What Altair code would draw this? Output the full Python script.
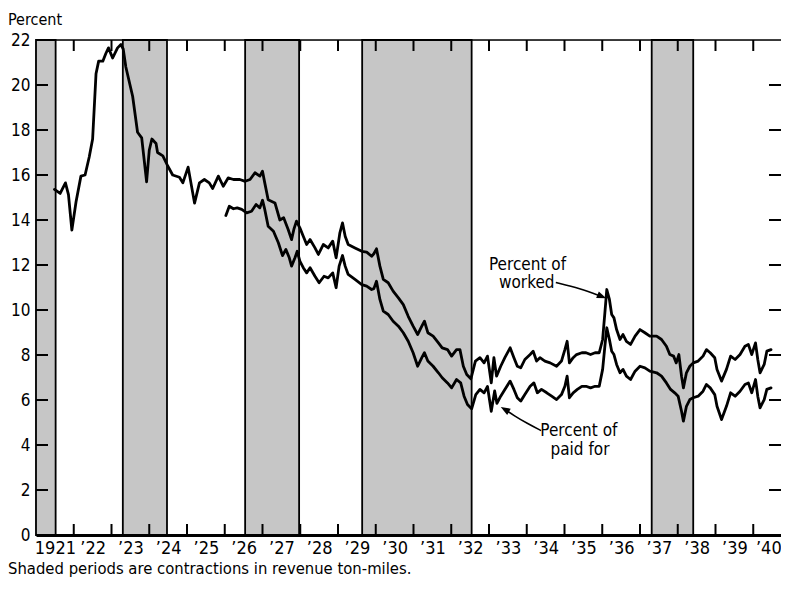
import json
import altair as alt
import pandas as pd

FONT = "DejaVu Sans Condensed, Liberation Sans Narrow, Roboto Condensed, DejaVu Sans, sans-serif"

# ---- data (decimal years, percent) ----
worked_t = [1921.49, 1921.64, 1921.78, 1921.86, 1921.95, 1922.06, 1922.19, 1922.30, 1922.41, 1922.50,
            1922.59, 1922.66, 1922.77, 1922.85, 1922.92, 1923.03, 1923.16, 1923.25, 1923.31, 1923.38,
            1923.56, 1923.69, 1923.80, 1923.93, 1924.00, 1924.07, 1924.18, 1924.22, 1924.36, 1924.49,
            1924.62, 1924.80, 1924.89, 1925.03, 1925.20, 1925.33, 1925.46, 1925.59, 1925.68, 1925.83,
            1925.96, 1926.09, 1926.23, 1926.40, 1926.54, 1926.67, 1926.80, 1926.93, 1927.00, 1927.06,
            1927.15, 1927.33, 1927.46, 1927.56, 1927.68, 1927.77, 1927.83, 1927.90, 1927.99, 1928.08,
            1928.17, 1928.26, 1928.39, 1928.48, 1928.61, 1928.74, 1928.86, 1928.95, 1929.05, 1929.12,
            1929.19, 1929.27, 1929.45, 1929.63, 1929.76, 1929.89, 1929.95, 1930.02, 1930.11, 1930.20,
            1930.33, 1930.46, 1930.60, 1930.73, 1930.86, 1930.99, 1931.11, 1931.22, 1931.29, 1931.38,
            1931.52, 1931.66, 1931.76, 1931.90, 1932.01, 1932.14, 1932.23, 1932.32, 1932.41, 1932.52,
            1932.64, 1932.76, 1932.87, 1932.96, 1933.06, 1933.13, 1933.20, 1933.31, 1933.42, 1933.56,
            1933.66, 1933.75, 1933.84, 1933.95, 1934.09, 1934.17, 1934.26, 1934.35, 1934.48, 1934.62,
            1934.79, 1934.92, 1935.01, 1935.07, 1935.13, 1935.23, 1935.32, 1935.46, 1935.57, 1935.69,
            1935.81, 1935.92, 1936.01, 1936.07, 1936.12, 1936.19, 1936.25, 1936.31, 1936.38, 1936.47,
            1936.55, 1936.64, 1936.75, 1936.87, 1937.00, 1937.13, 1937.26, 1937.44, 1937.57, 1937.70,
            1937.79, 1937.89, 1937.96, 1938.03, 1938.10, 1938.15, 1938.23, 1938.32, 1938.41, 1938.54,
            1938.67, 1938.76, 1938.86, 1938.98, 1939.04, 1939.16, 1939.29, 1939.40, 1939.52, 1939.65,
            1939.78, 1939.87, 1939.96, 1940.06, 1940.12, 1940.18, 1940.29, 1940.36, 1940.47]
worked_v = [15.36, 15.18, 15.65, 15.13, 13.55, 14.8, 15.95, 16.0, 16.8, 17.6,
            20.5, 21.06, 21.06, 21.4, 21.65, 21.2, 21.65, 21.8, 21.6, 20.8,
            19.5, 17.9, 17.65, 15.7, 17.1, 17.6, 17.4, 17.0, 16.85, 16.4,
            16.0, 15.9, 15.65, 16.35, 14.75, 15.65, 15.8, 15.65, 15.4, 15.95,
            15.5, 15.87, 15.8, 15.8, 15.72, 15.8, 16.1, 15.95, 16.17, 15.65,
            14.9, 14.76, 14.0, 14.1, 13.58, 13.13, 13.58, 13.95, 13.65, 13.28,
            12.91, 13.13, 12.76, 12.47, 12.91, 12.76, 13.06, 12.32, 13.43, 13.87,
            13.28, 12.91, 12.76, 12.61, 12.57, 12.39, 12.5, 12.72, 11.95, 11.36,
            11.21, 10.84, 10.54, 10.24, 9.72, 9.28, 8.91, 9.28, 9.5, 8.99,
            8.84, 8.54, 8.32, 8.24, 7.95, 8.24, 8.24, 7.5, 7.13, 6.94,
            7.73, 7.88, 7.65, 7.95, 6.76, 7.88, 7.06, 7.5, 7.88, 8.32,
            7.88, 7.5, 7.43, 7.8, 8.02, 8.17, 7.73, 7.88, 7.73, 7.65,
            7.5, 7.73, 8.24, 8.61, 7.65, 7.88, 8.02, 8.1, 8.1, 8.02,
            8.1, 8.1, 8.69, 9.88, 10.91, 10.47, 9.8, 9.65, 9.13, 8.69,
            8.91, 8.61, 8.47, 8.84, 9.13, 8.99, 8.84, 8.84, 8.69, 8.39,
            8.02, 7.95, 7.65, 8.02, 7.06, 6.54, 7.21, 7.5, 7.65, 7.73,
            7.95, 8.24, 8.1, 7.88, 7.36, 6.84, 7.36, 7.95, 7.8, 8.02,
            8.39, 8.47, 8.02, 8.54, 7.8, 7.21, 7.58, 8.17, 8.24]

paid_t = [1926.03, 1926.12, 1926.23, 1926.33, 1926.45, 1926.58, 1926.71, 1926.83, 1926.93, 1927.00,
          1927.06, 1927.15, 1927.29, 1927.42, 1927.53, 1927.62, 1927.71, 1927.77, 1927.86, 1927.92,
          1927.99, 1928.08, 1928.17, 1928.26, 1928.39, 1928.50, 1928.63, 1928.74, 1928.86, 1928.95,
          1929.03, 1929.12, 1929.19, 1929.27, 1929.45, 1929.63, 1929.76, 1929.89, 1929.95, 1930.02,
          1930.11, 1930.20, 1930.33, 1930.46, 1930.60, 1930.73, 1930.86, 1930.99, 1931.11, 1931.22,
          1931.29, 1931.38, 1931.52, 1931.66, 1931.76, 1931.90, 1932.01, 1932.14, 1932.25, 1932.34,
          1932.43, 1932.54, 1932.65, 1932.76, 1932.87, 1932.96, 1933.06, 1933.15, 1933.21, 1933.31,
          1933.42, 1933.56, 1933.66, 1933.75, 1933.84, 1933.95, 1934.09, 1934.19, 1934.28, 1934.39,
          1934.53, 1934.66, 1934.79, 1934.92, 1935.01, 1935.07, 1935.13, 1935.23, 1935.34, 1935.46,
          1935.57, 1935.69, 1935.81, 1935.92, 1936.01, 1936.07, 1936.12, 1936.19, 1936.25, 1936.31,
          1936.38, 1936.47, 1936.55, 1936.64, 1936.75, 1936.87, 1937.00, 1937.13, 1937.26, 1937.44,
          1937.57, 1937.70, 1937.81, 1937.92, 1938.01, 1938.10, 1938.15, 1938.23, 1938.32, 1938.41,
          1938.54, 1938.67, 1938.76, 1938.86, 1938.98, 1939.04, 1939.16, 1939.29, 1939.40, 1939.52,
          1939.65, 1939.78, 1939.87, 1939.96, 1940.06, 1940.12, 1940.18, 1940.29, 1940.36, 1940.47]
paid_v = [14.2, 14.61, 14.5, 14.54, 14.47, 14.32, 14.39, 14.69, 14.54, 14.88,
          14.47, 13.72, 13.5, 12.99, 12.42, 12.69, 12.32, 11.95, 12.32, 12.61,
          12.17, 11.88, 11.65, 11.88, 11.5, 11.21, 11.5, 11.43, 11.65, 10.99,
          11.95, 12.42, 11.95, 11.58, 11.36, 11.13, 11.06, 10.91, 10.95, 11.28,
          10.47, 9.95, 9.8, 9.5, 9.28, 8.99, 8.61, 8.1, 7.5, 7.88,
          8.1, 7.73, 7.5, 7.21, 6.99, 6.76, 6.54, 6.91, 6.76, 6.17,
          5.8, 5.61, 6.24, 6.47, 6.32, 6.6, 5.5, 6.4, 5.85, 6.17,
          6.47, 6.84, 6.47, 6.1, 5.95, 6.24, 6.61, 6.76, 6.32, 6.47,
          6.32, 6.17, 6.02, 6.24, 6.61, 7.06, 6.1, 6.32, 6.47, 6.61,
          6.61, 6.54, 6.61, 6.61, 7.36, 8.39, 9.21, 8.69, 8.17, 8.02,
          7.58, 7.21, 7.36, 7.06, 6.91, 7.28, 7.5, 7.43, 7.28, 7.21,
          7.06, 6.76, 6.47, 6.32, 6.17, 5.5, 5.06, 5.72, 6.02, 6.1,
          6.17, 6.39, 6.69, 6.54, 6.24, 5.72, 5.13, 5.72, 6.32, 6.17,
          6.39, 6.69, 6.76, 6.32, 6.91, 6.17, 5.65, 6.02, 6.47, 6.54]

# contraction periods (shaded)
shade_start = [1921.0, 1923.30, 1926.54, 1929.64, 1937.31]
shade_end = [1921.52, 1924.47, 1927.97, 1932.54, 1938.41]

y_ticks = [0, 2, 4, 6, 8, 10, 12, 14, 16, 18, 20, 22]
year_bounds = list(range(1922, 1941))
year_labels = ["1921", "’22", "’23", "’24", "’25", "’26", "’27", "’28", "’29", "’30",
               "’31", "’32", "’33", "’34", "’35", "’36", "’37", "’38", "’39", "’40"]
# label positions: mid-year (last one nudged left so it stays inside the page)
label_pos = [1921.5 + i for i in range(len(year_labels) - 1)] + [1940.4]

y_title = "Percent"
footnote = "Shaded periods are contractions in revenue ton-miles."

# annotations (data units)
worked_label = ["Percent of", "worked"]
worked_label_t = [1934.02, 1934.0]
worked_label_v = [12.02, 11.18]
worked_arrow_t = [1934.77, 1935.41, 1935.99]
worked_arrow_v = [11.22, 10.96, 10.6]
paid_label = ["Percent of", "paid for"]
paid_label_t = [1935.38, 1935.41]
paid_label_v = [4.64, 3.8]
paid_arrow_t = [1934.38, 1934.01, 1933.66, 1933.42]
paid_arrow_v = [4.64, 4.96, 5.31, 5.58]

# ---- layout ----
PX_PER_YEAR = 37.75
W, H = 745, 495
X_MIN = 1921.0
X_MAX = X_MIN + W / PX_PER_YEAR
Y_MIN, Y_MAX = 0, 22
xs = alt.Scale(domain=[X_MIN, X_MAX], nice=False, zero=False)
ys = alt.Scale(domain=[Y_MIN, Y_MAX], nice=False, zero=True)

labels_js = json.dumps(year_labels, ensure_ascii=False)
x_axis = alt.Axis(values=label_pos,
                  labelExpr=f"{labels_js}[min(19, round(datum.value - 1921.5))]",
                  ticks=False, domain=True, domainColor="black", domainWidth=3,
                  labelFont=FONT, labelFontSize=18, labelColor="black", labelPadding=4,
                  labelFlush=False, labelOverlap=False, grid=False, title=None)
y_axis = alt.Axis(values=y_ticks, ticks=False, domain=True, domainColor="black", domainWidth=1.6,
                  labelFont=FONT, labelFontSize=17, labelColor="black", labelPadding=6,
                  grid=False, title=None)


def X(f="t"):
    return alt.X(f"{f}:Q", scale=xs, axis=x_axis)


def Y(f="v"):
    return alt.Y(f"{f}:Q", scale=ys, axis=y_axis)


shade_df = pd.DataFrame({"t": shade_start, "t2": shade_end, "v": [Y_MIN] * 5, "v2": [Y_MAX] * 5})
shade = alt.Chart(shade_df).mark_rect(fill="#c6c6c6", stroke="black", strokeWidth=1.8).encode(
    x=X(), x2="t2:Q", y=Y(), y2="v2:Q")

top_df = pd.DataFrame({"t": [X_MIN], "t2": [X_MAX], "v": [Y_MAX]})
top = alt.Chart(top_df).mark_rule(color="black", strokeWidth=1.6).encode(x=X(), x2="t2:Q", y=Y())

xt_len = 11 / 22.5
xt_df = pd.DataFrame({"t": year_bounds * 2,
                      "v": [Y_MIN] * len(year_bounds) + [Y_MAX - xt_len] * len(year_bounds),
                      "v2": [Y_MIN + xt_len] * len(year_bounds) + [Y_MAX] * len(year_bounds)})
xticks = alt.Chart(xt_df).mark_rule(color="black", strokeWidth=2).encode(x=X(), y=Y(), y2="v2:Q")

yt = [v for v in y_ticks if Y_MIN < v < Y_MAX]
yl = 12 / PX_PER_YEAR
yt_df = pd.DataFrame({"t": [X_MIN] * len(yt) + [X_MAX - yl] * len(yt),
                      "t2": [X_MIN + yl] * len(yt) + [X_MAX] * len(yt),
                      "v": yt * 2})
yticks = alt.Chart(yt_df).mark_rule(color="black", strokeWidth=2).encode(x=X(), x2="t2:Q", y=Y())

line_style = dict(color="black", strokeWidth=2.8, strokeJoin="round", strokeCap="round")
worked = alt.Chart(pd.DataFrame({"t": worked_t, "v": worked_v})).mark_line(**line_style).encode(x=X(), y=Y())
paid = alt.Chart(pd.DataFrame({"t": paid_t, "v": paid_v})).mark_line(**line_style).encode(x=X(), y=Y())

ann_df = pd.DataFrame({"t": worked_label_t + paid_label_t, "v": worked_label_v + paid_label_v,
                       "txt": worked_label + paid_label})
ann = alt.Chart(ann_df).mark_text(font=FONT, fontSize=17, color="black", align="center",
                                  baseline="middle").encode(x=X(), y=Y(), text="txt:N")

arrow_style = dict(color="black", strokeWidth=1.6, interpolate="basis")
warrow = alt.Chart(pd.DataFrame({"t": worked_arrow_t, "v": worked_arrow_v})).mark_line(**arrow_style).encode(
    x=X(), y=Y(), order="t:Q")
parrow = alt.Chart(pd.DataFrame({"t": paid_arrow_t, "v": paid_arrow_v, "o": list(range(4))})).mark_line(
    **arrow_style).encode(x=X(), y=Y(), order="o:Q")

head_df = pd.DataFrame({"t": [worked_arrow_t[-1], paid_arrow_t[-1]],
                        "v": [worked_arrow_v[-1], paid_arrow_v[-1]],
                        "a": [112, 300]})
heads = alt.Chart(head_df).mark_point(shape="M0,-1L0.75,1L-0.75,1Z", filled=True, color="black",
                                      size=90, opacity=1).encode(
    x=X(), y=Y(), angle=alt.Angle("a:Q", scale=None))

title_txt = alt.Chart(pd.DataFrame({"txt": [y_title]})).mark_text(
    font=FONT, fontSize=16, color="black", align="left", baseline="alphabetic").encode(
    x=alt.value(-28), y=alt.value(-15), text="txt:N")
foot_txt = alt.Chart(pd.DataFrame({"txt": [footnote]})).mark_text(
    font=FONT, fontSize=16.5, color="black", align="left", baseline="alphabetic").encode(
    x=alt.value(-28), y=alt.value(H + 39), text="txt:N")

chart = alt.layer(shade, top, xticks, yticks, worked, paid, warrow, parrow, heads, ann,
                  title_txt, foot_txt).properties(
    width=W, height=H,
    autosize=alt.AutoSizeParams(type="none"),
    padding={"left": 28, "top": 32, "right": 0, "bottom": 43},
).configure_view(stroke=None).configure(background="white")

chart.save("out.html", embed_options={"renderer": "svg", "actions": False})
